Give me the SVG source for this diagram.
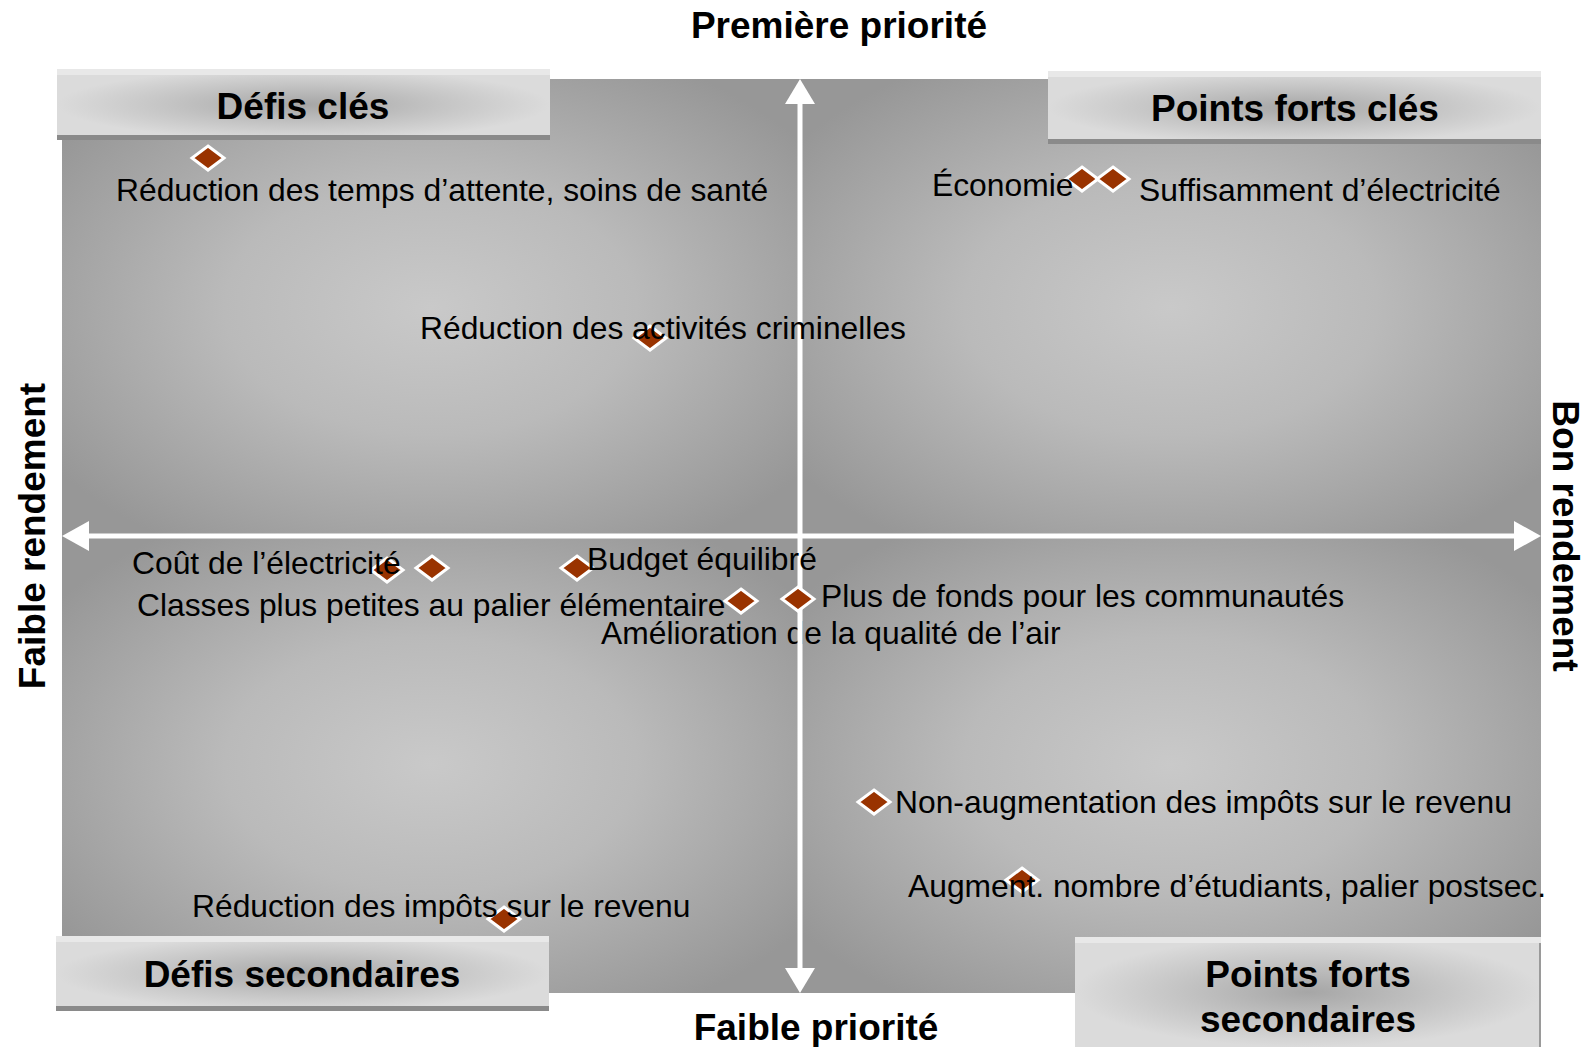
<svg xmlns="http://www.w3.org/2000/svg" xmlns:xlink="http://www.w3.org/1999/xlink" width="1593" height="1047" viewBox="0 0 1593 1047">
<style>
.h{font-family:"Liberation Sans",Arial,sans-serif;font-weight:bold;font-size:37px;fill:#000;text-anchor:middle}
.l{font-family:"Liberation Sans",Arial,sans-serif;font-size:31.8px;fill:#000}
.mk{fill:#993300;stroke:#fff;stroke-width:3;stroke-linejoin:miter}
.ax{stroke:#fff;stroke-width:5;fill:none}
.ah{fill:#fff}
.top{fill:#e8e8e8}
.bot{fill:#8a8a8a}
</style>
<defs>
<radialGradient id="quad" cx="0.5" cy="0.5" r="0.62">
<stop offset="0" stop-color="#c9c9c9"/>
<stop offset="0.45" stop-color="#bababa"/>
<stop offset="1" stop-color="#979797"/>
</radialGradient>
<radialGradient id="boxg" cx="0.5" cy="0.5" r="0.5">
<stop offset="0" stop-color="#a6a6a6"/>
<stop offset="0.55" stop-color="#c4c4c4"/>
<stop offset="1" stop-color="#dbdbdb"/>
</radialGradient>
<path id="dia" d="M0,-12 L16,0 L0,12 L-16,0 Z"/>
</defs>

<g id="background">
<rect x="62" y="79" width="738" height="457" fill="url(#quad)"/>
<rect x="800" y="79" width="741" height="457" fill="url(#quad)"/>
<rect x="62" y="536" width="738" height="457" fill="url(#quad)"/>
<rect x="800" y="536" width="741" height="457" fill="url(#quad)"/>
</g>

<text id="label-amelioration" class="l" x="601" y="644">Amélioration de la qualité de l’air</text>

<g id="connectors">
<line class="ax" x1="800" y1="100" x2="800" y2="972"/>
<line class="ax" x1="85" y1="536" x2="1518" y2="536"/>
<polygon class="ah" points="800,79 815,104 785,104"/>
<polygon class="ah" points="800,993 815,968 785,968"/>
<polygon class="ah" points="62,536 89,521 89,551"/>
<polygon class="ah" points="1541,536 1514,521 1514,551"/>
</g>

<g id="markers" class="mk">
<use xlink:href="#dia" x="208" y="158"/>
<use xlink:href="#dia" x="1082" y="179"/>
<use xlink:href="#dia" x="1113" y="179"/>
<use xlink:href="#dia" x="650" y="338"/>
<use xlink:href="#dia" x="387" y="570"/>
<use xlink:href="#dia" x="432" y="568"/>
<use xlink:href="#dia" x="577" y="568"/>
<use xlink:href="#dia" x="741" y="601"/>
<use xlink:href="#dia" x="798" y="599"/>
<use xlink:href="#dia" x="874" y="802"/>
<use xlink:href="#dia" x="1022" y="880"/>
<use xlink:href="#dia" x="504" y="919"/>
</g>

<g id="labels">
<text class="l" x="116" y="201">Réduction des temps d’attente, soins de santé</text>
<text class="l" x="932" y="196">Économie</text>
<text class="l" x="1139" y="201">Suffisamment d’électricité</text>
<text class="l" x="420" y="339">Réduction des activités criminelles</text>
<text class="l" x="132" y="574">Coût de l’électricité</text>
<text class="l" x="587" y="570">Budget équilibré</text>
<text class="l" x="137" y="616">Classes plus petites au palier élémentaire</text>
<text class="l" x="821" y="607">Plus de fonds pour les communautés</text>
<text class="l" x="895" y="813">Non-augmentation des impôts sur le revenu</text>
<text class="l" x="908" y="897">Augment. nombre d’étudiants, palier postsec.</text>
<text class="l" x="192" y="917">Réduction des impôts sur le revenu</text>
</g>

<g id="box-defis-cles">
<rect x="57" y="69" width="493" height="71" fill="url(#boxg)"/>
<rect class="top" x="57" y="69" width="493" height="6"/>
<rect class="bot" x="57" y="135" width="493" height="5"/>
<text class="h" x="303" y="119">Défis clés</text>
</g>

<g id="box-points-forts-cles">
<rect x="1048" y="71" width="493" height="73" fill="url(#boxg)"/>
<rect class="top" x="1048" y="71" width="493" height="6"/>
<rect class="bot" x="1048" y="139" width="493" height="5"/>
<text class="h" x="1295" y="121">Points forts clés</text>
</g>

<g id="box-defis-secondaires">
<rect x="56" y="936" width="493" height="75" fill="url(#boxg)"/>
<rect class="top" x="56" y="936" width="493" height="6"/>
<rect class="bot" x="56" y="1006" width="493" height="5"/>
<text class="h" x="302" y="987">Défis secondaires</text>
</g>

<g id="box-points-forts-secondaires">
<rect x="1075" y="937" width="466" height="110" fill="url(#boxg)"/>
<rect class="top" x="1075" y="937" width="466" height="6"/>
<rect x="1539" y="943" width="2" height="104" fill="#9a9a9a"/>
<text class="h" x="1308" y="987">Points forts</text>
<text class="h" x="1308" y="1032">secondaires</text>
</g>

<g id="axis-labels">
<text class="h" x="839" y="38">Première priorité</text>
<text class="h" x="816" y="1040">Faible priorité</text>
<text class="h" transform="translate(45,536) rotate(-90)">Faible rendement</text>
<text class="h" transform="translate(1553,536) rotate(90)">Bon rendement</text>
</g>
</svg>
